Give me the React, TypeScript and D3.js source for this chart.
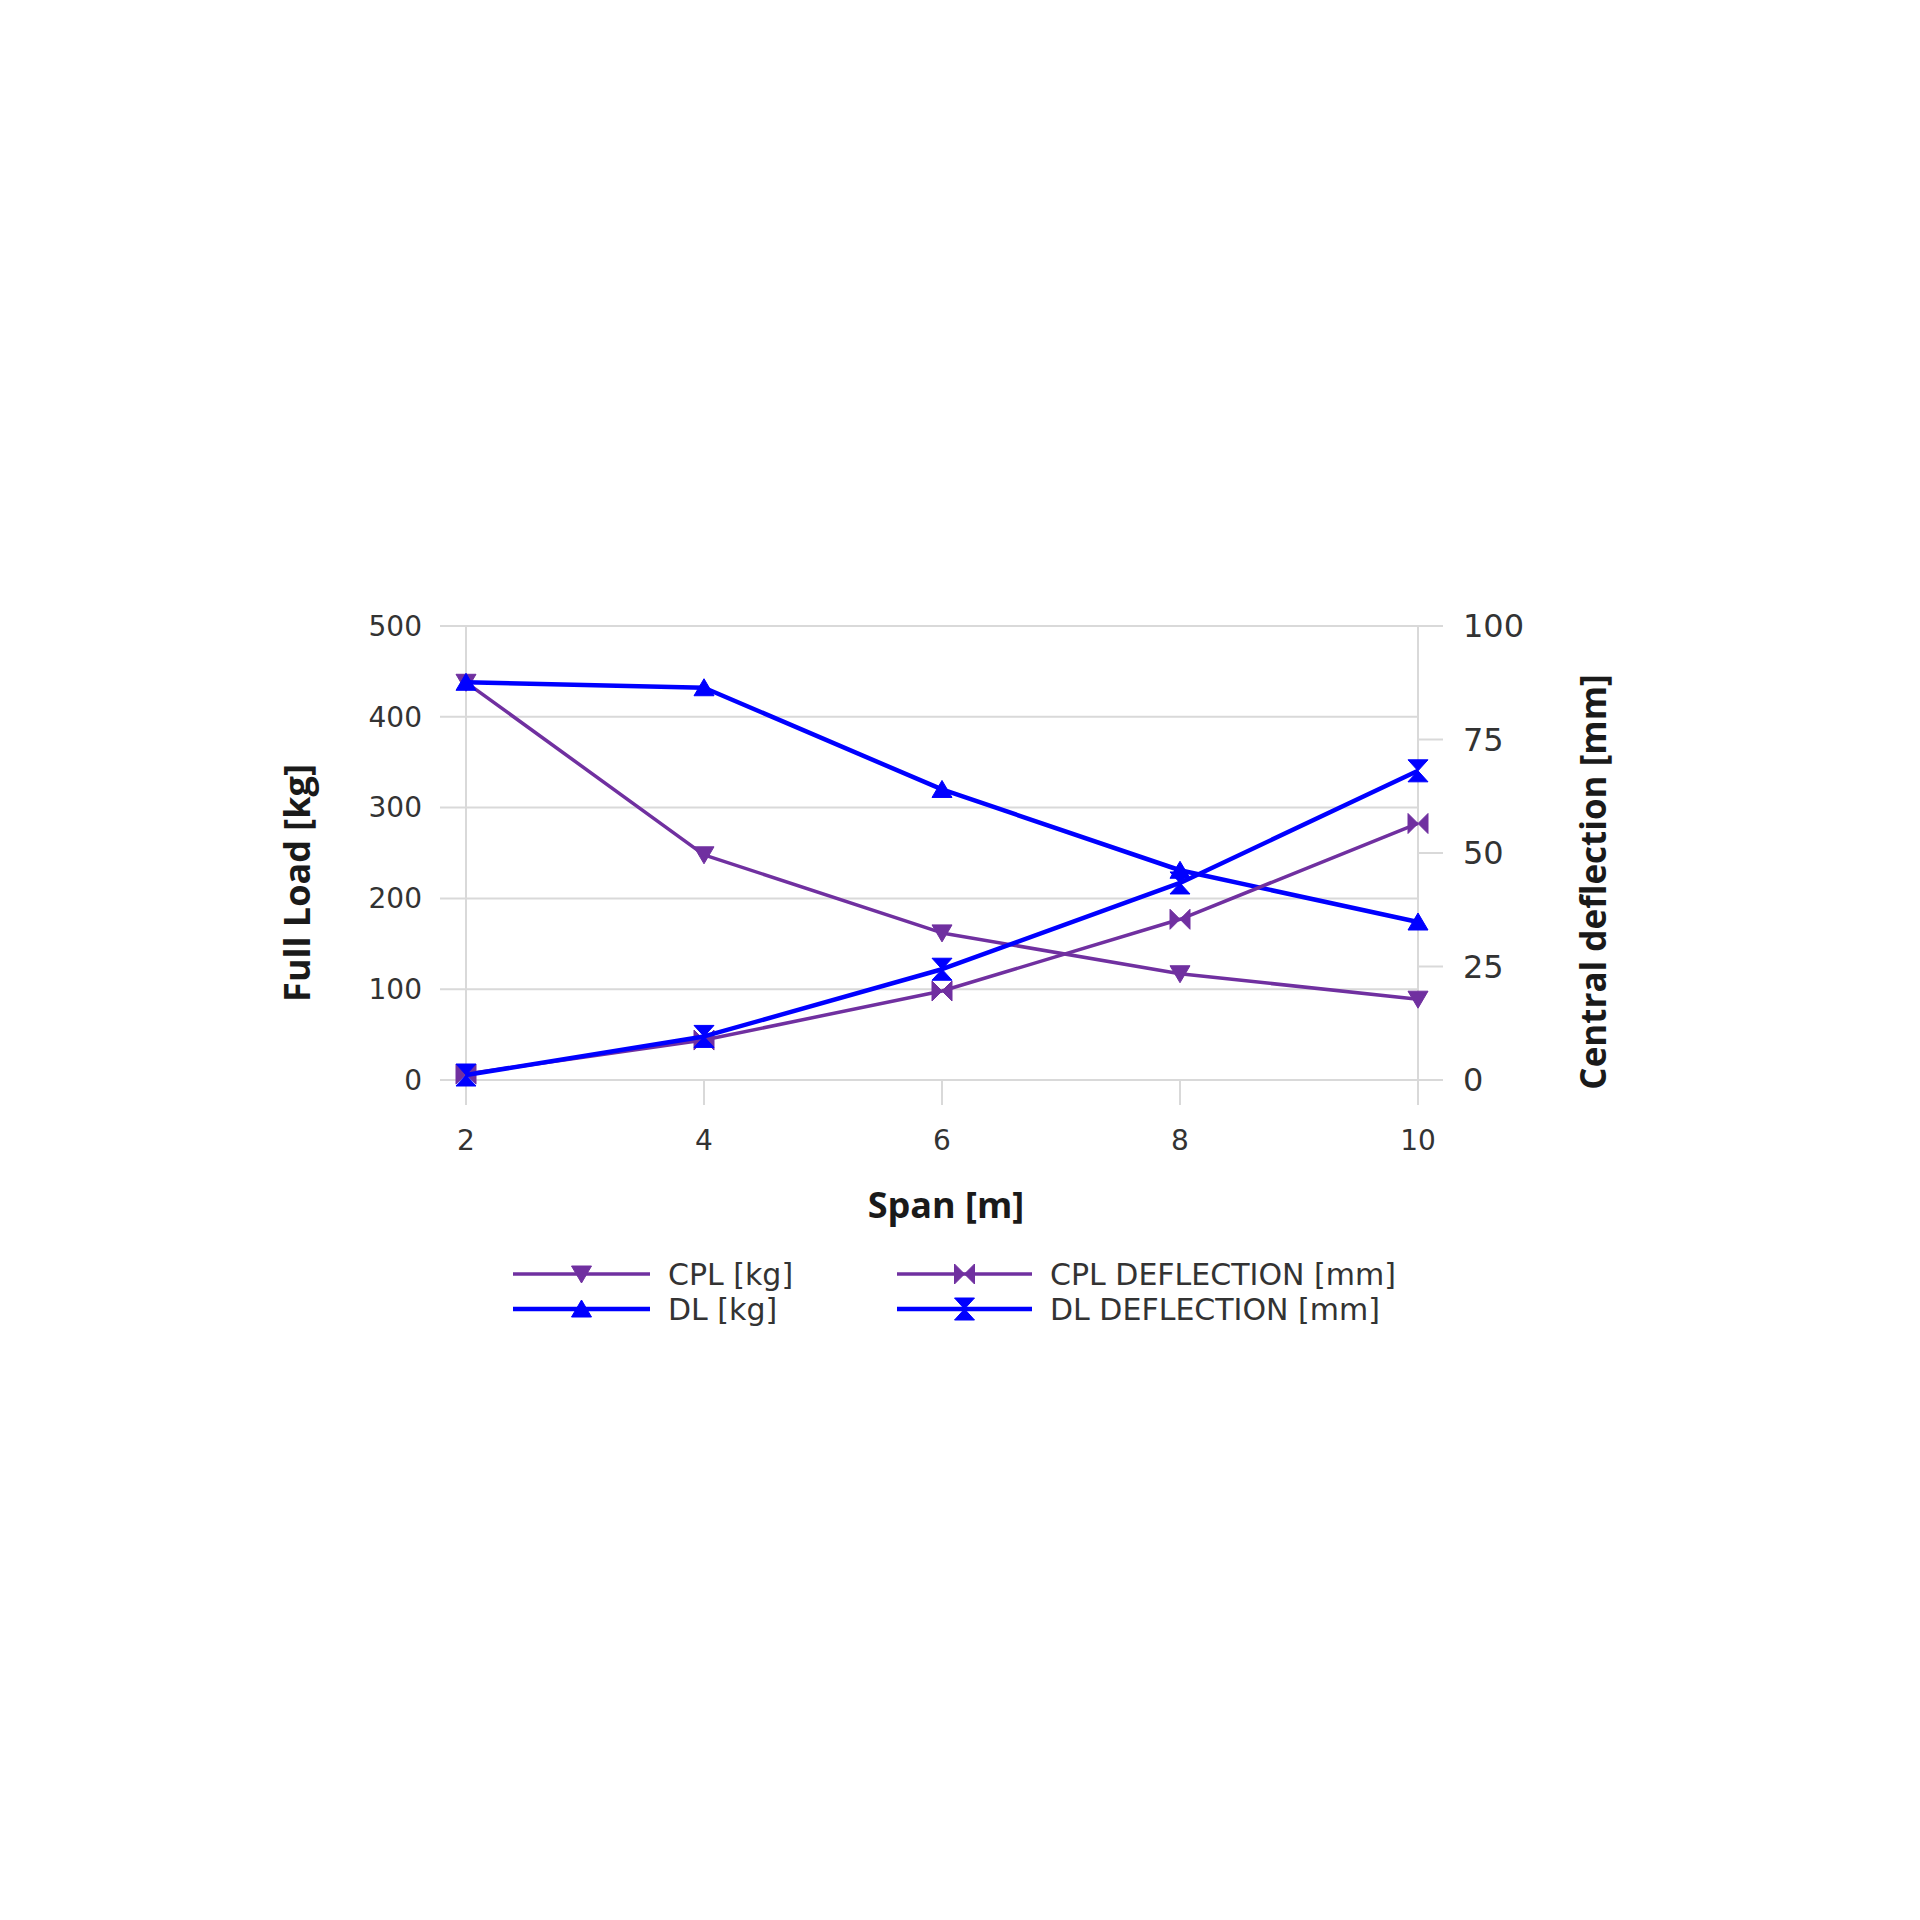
import * as d3 from "d3";

const spans = [2, 4, 6, 8, 10];
const cplKg = [438, 248, 162, 117, 89];
const dlKg = [438, 432, 320, 231, 174];
const cplDeflection = [1.3, 8.8, 19.6, 35.4, 56.5];
const dlDeflection = [1.1, 9.6, 24.4, 43.4, 68.1];

const leftTicks = [0, 100, 200, 300, 400, 500];
const rightTicks = [0, 25, 50, 75, 100];

const PURPLE = "#7030a0";
const BLUE = "#0000ff";
const LABEL_FONT = "'DejaVu Sans', sans-serif";
const TITLE_FONT = "'Open Sans', sans-serif";

type Marker = "down" | "up" | "bowtie" | "hourglass";

const markerPath: Record<Marker, string> = {
  down: "M-10,-8L10,-8L0,9Z",
  up: "M-10,8L10,8L0,-9Z",
  bowtie: "M-10,-10L0,0L-10,10ZM10,-10L0,0L10,10Z",
  hourglass: "M-10,-11L10,-11L0,0ZM-10,11L10,11L0,0Z",
};

const series = [
  { name: "CPL [kg]", values: cplKg, axis: "left", color: PURPLE, width: 3.5, marker: "down" as Marker },
  { name: "DL [kg]", values: dlKg, axis: "left", color: BLUE, width: 4.5, marker: "up" as Marker },
  { name: "CPL DEFLECTION [mm]", values: cplDeflection, axis: "right", color: PURPLE, width: 3.5, marker: "bowtie" as Marker },
  { name: "DL DEFLECTION [mm]", values: dlDeflection, axis: "right", color: BLUE, width: 4.5, marker: "hourglass" as Marker },
];

export default function App() {
  const left = 466, right = 1418, top = 626, bottom = 1080;

  const x = d3.scaleLinear().domain([2, 10]).range([left, right]);
  const yL = d3.scaleLinear().domain([0, 500]).range([bottom, top]);
  const yR = d3.scaleLinear().domain([0, 100]).range([bottom, top]);

  const legendPos = [
    { x0: 513, x1: 650, y: 1274 },
    { x0: 513, x1: 650, y: 1309 },
    { x0: 897, x1: 1032, y: 1274 },
    { x0: 897, x1: 1032, y: 1309 },
  ];

  return (
    <>
      <style>{`body{margin:0}`}</style>
      <svg width={1920} height={1920} style={{ display: "block", background: "#fff" }} fontFamily={LABEL_FONT}>
        {/* horizontal grid */}
        {leftTicks.map((t) => (
          <line key={"g" + t} x1={left - 26} x2={right} y1={yL(t)} y2={yL(t)} stroke="#d9d9d9" strokeWidth={2} />
        ))}
        {/* vertical tick lines */}
        {[2, 10].map((t) => (
          <line key={"v" + t} x1={x(t)} x2={x(t)} y1={top} y2={bottom + 25} stroke="#d9d9d9" strokeWidth={2} />
        ))}
        {spans.slice(1, -1).map((t) => (
          <line key={"vt" + t} x1={x(t)} x2={x(t)} y1={bottom} y2={bottom + 25} stroke="#d9d9d9" strokeWidth={2} />
        ))}
        {rightTicks.map((t) => (
          <line key={"rt" + t} x1={right} x2={right + 25} y1={yR(t)} y2={yR(t)} stroke="#d9d9d9" strokeWidth={2} />
        ))}

        {/* tick labels */}
        {leftTicks.map((t) => (
          <text key={"lt" + t} x={left - 44} y={yL(t)} dy="0.35em" textAnchor="end" fontSize={28} fill="#333">
            {t}
          </text>
        ))}
        {rightTicks.map((t) => (
          <text key={"rl" + t} x={right + 45} y={yR(t)} dy="0.35em" textAnchor="start" fontSize={32} fill="#333">
            {t}
          </text>
        ))}
        {spans.map((t) => (
          <text key={"xt" + t} x={x(t)} y={bottom + 60} dy="0.35em" textAnchor="middle" fontSize={28} fill="#333">
            {t}
          </text>
        ))}

        {/* axis titles */}
        <g fontFamily={TITLE_FONT} fontWeight="bold" fill="#1a1a1a">
          <text x={946} y={1218} textAnchor="middle" fontSize={36}>
            Span [m]
          </text>
          <text transform="translate(310,883) rotate(-90)" textAnchor="middle" fontSize={36}>
            Full Load [kg]
          </text>
          <text transform="translate(1606,882) rotate(-90)" textAnchor="middle" fontSize={35}>
            Central deflection [mm]
          </text>
        </g>

        {/* series */}
        {series.map((s) => {
          const y = s.axis === "left" ? yL : yR;
          const line = d3
            .line<number>()
            .x((_, i) => x(spans[i]))
            .y((v) => y(v));
          return (
            <g key={s.name}>
              <path d={line(s.values) ?? ""} fill="none" stroke={s.color} strokeWidth={s.width} strokeLinejoin="round" />
              {s.values.map((v, i) => (
                <path key={i} d={markerPath[s.marker]} transform={`translate(${x(spans[i])},${y(v)})`} fill={s.color} stroke={s.color} strokeWidth={1} />
              ))}
            </g>
          );
        })}

        {/* legend */}
        {series.map((s, i) => {
          const p = legendPos[i];
          const cx = (p.x0 + p.x1) / 2;
          return (
            <g key={"leg" + s.name}>
              <line x1={p.x0} x2={p.x1} y1={p.y} y2={p.y} stroke={s.color} strokeWidth={s.width} />
              <path d={markerPath[s.marker]} transform={`translate(${cx},${p.y})`} fill={s.color} stroke={s.color} strokeWidth={1} />
              <text x={p.x1 + 18} y={p.y} dy="0.35em" fontSize={30} fill="#333">
                {s.name}
              </text>
            </g>
          );
        })}
      </svg>
    </>
  );
}
